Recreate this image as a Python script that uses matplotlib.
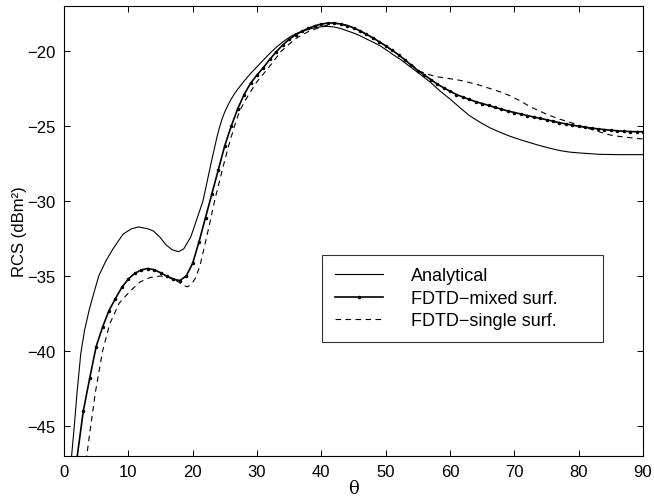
import matplotlib
matplotlib.use("Agg")
import matplotlib.pyplot as plt

plt.rcParams["font.family"] = ["Liberation Sans", "DejaVu Sans"]

# 解析解
theta_ana = [0.9, 1.2, 1.6, 2.0, 2.6, 3.2, 3.95, 4.6, 5.4, 6.5, 7.6, 9.2, 10.5, 11.6, 13.0,
             13.9, 15.0, 15.8, 16.8, 17.8, 18.6, 19.7, 20.5, 21.6, 22.1, 22.6, 23.0, 23.4,
             23.8, 24.2, 24.6, 25.0, 25.5, 26.0, 26.5, 27.0, 28.0, 29.0, 30.0, 31.0, 32.0,
             33.0, 34.0, 35.0, 36.0, 37.0, 38.0, 39.0, 40.0, 41.0, 42.0, 43.0, 44.0, 45.0,
             46.0, 47.0, 48.0, 49.1, 50.0, 51.0, 52.2, 53.5, 55.3, 57.0, 58.4, 60.0, 61.5,
             63.0, 64.7, 66.2, 67.8, 69.3, 70.9, 72.5, 74.0, 75.5, 77.1, 78.6, 80.2, 83.3,
             86.5, 90.0]
rcs_ana = [-48.5, -46.9, -45.0, -42.9, -40.2, -38.6, -37.2, -36.2, -35.0, -34.0, -33.2, -32.2,
           -31.85, -31.73, -31.85, -32.0, -32.45, -32.9, -33.25, -33.38, -33.2, -32.4, -31.4,
           -30.0, -29.0, -28.0, -27.2, -26.45, -25.7, -25.05, -24.5, -24.05, -23.6, -23.2,
           -22.85, -22.55, -22.0, -21.5, -21.05, -20.6, -20.15, -19.75, -19.4, -19.1, -18.85,
           -18.7, -18.55, -18.45, -18.38, -18.36, -18.4, -18.5, -18.65, -18.8, -18.98, -19.2,
           -19.4, -19.64, -19.9, -20.2, -20.53, -20.95, -21.53, -22.1, -22.65, -23.2, -23.76,
           -24.3, -24.76, -25.12, -25.42, -25.68, -25.91, -26.12, -26.31, -26.48, -26.64,
           -26.74, -26.8, -26.89, -26.91, -26.91]

# FDTD 混合面, 每 1 度一个点
theta_mix = list(range(2, 91))
rcs_mix = [-47.2, -44.0, -41.8, -39.7, -38.4, -37.3, -36.5, -35.75, -35.2, -34.82, -34.6,
           -34.5, -34.58, -34.78, -35.02, -35.22, -35.3, -35.0, -34.15, -32.7, -31.1, -29.5,
           -27.9, -26.3, -25.0, -23.85, -22.9, -22.15, -21.6, -21.1, -20.55, -20.05, -19.6,
           -19.22, -18.92, -18.68, -18.48, -18.32, -18.2, -18.14, -18.13, -18.2, -18.3,
           -18.45, -18.65, -18.88, -19.12, -19.38, -19.65, -19.95, -20.25, -20.6, -20.95,
           -21.3, -21.6, -21.9, -22.2, -22.45, -22.68, -22.9, -23.07, -23.23, -23.38, -23.5,
           -23.63, -23.76, -23.88, -24.0, -24.1, -24.2, -24.3, -24.4, -24.49, -24.58, -24.68,
           -24.78, -24.86, -24.94, -25.02, -25.08, -25.14, -25.19, -25.24, -25.28, -25.32,
           -25.35, -25.37, -25.38, -25.38]

# FDTD 单一面
theta_sgl = [3.3, 3.53, 4.15, 4.9, 6.0, 7.1, 8.6, 10.3, 11.8, 13.4, 15.0, 16.6, 18.0, 18.7,
             19.2, 19.8, 20.5, 21.2, 21.9, 22.6, 23.4, 24.1, 24.8, 25.6, 26.5, 27.3, 28.3,
             29.9, 32.0, 33.8, 35.9, 38.0, 40.3, 42.0, 44.0, 46.0, 49.1, 52.2, 55.3, 56.5,
             58.0, 59.9, 61.5, 63.0, 64.6, 66.2, 67.8, 69.3, 70.9, 72.4, 74.0, 75.5, 77.1,
             78.7, 80.2, 81.8, 83.3, 84.9, 86.4, 88.0, 90.0]
rcs_sgl = [-48.0, -47.0, -45.0, -42.7, -40.0, -38.2, -36.8, -36.0, -35.4, -35.1, -35.0,
           -35.1, -35.45, -35.65, -35.72, -35.55, -35.1, -34.2, -32.9, -31.6, -30.0, -28.8,
           -27.6, -26.3, -25.0, -24.0, -23.2, -22.1, -21.0, -20.0, -19.2, -18.7, -18.35,
           -18.15, -18.3, -18.65, -19.42, -20.3, -21.35, -21.55, -21.72, -21.84, -21.95,
           -22.1, -22.28, -22.5, -22.72, -22.98, -23.32, -23.7, -24.02, -24.3, -24.55,
           -24.76, -24.98, -25.2, -25.4, -25.6, -25.7, -25.78, -25.87]

xticks = [0, 10, 20, 30, 40, 50, 60, 70, 80, 90]
yticks = [-45, -40, -35, -30, -25, -20]

fig = plt.figure(figsize=(6.54, 5.02), dpi=100)
ax = fig.add_axes([64 / 654, 1 - 457 / 502, 579 / 654, 450 / 502])

ax.plot(theta_ana, rcs_ana, color="black", lw=0.8, label="Analytical")
ax.plot(theta_mix, rcs_mix, color="black", lw=1.2, marker=".", markersize=3,
        label="FDTD\u2212mixed surf.")
ax.plot(theta_sgl, rcs_sgl, color="black", lw=0.8, dashes=(5, 4),
        label="FDTD\u2212single surf.")

ax.set_xlim(0, 90)
ax.set_ylim(-47, -17)
ax.set_xticks(xticks)
ax.set_yticks(yticks)
ax.tick_params(direction="in", top=True, right=True, length=4.5, width=0.7,
               labelsize=12, pad=6)
for s in ax.spines.values():
    s.set_linewidth(0.8)

ax.set_xlabel("\u03b8", fontsize=13, family=["DejaVu Serif"], labelpad=0)
ax.set_ylabel("RCS (dBm\u00b2)", fontsize=12, labelpad=0)

leg = ax.legend(loc="upper left", bbox_to_anchor=(0.4456, 0.258, 0.485, 0.189),
                mode="expand", fontsize=13, frameon=True, fancybox=False,
                edgecolor="black", handlelength=2.7, handletextpad=1.55,
                labelspacing=0.3, borderpad=0.7, borderaxespad=0)
leg.get_frame().set_linewidth(0.8)

fig.savefig("out.png", dpi=100)
